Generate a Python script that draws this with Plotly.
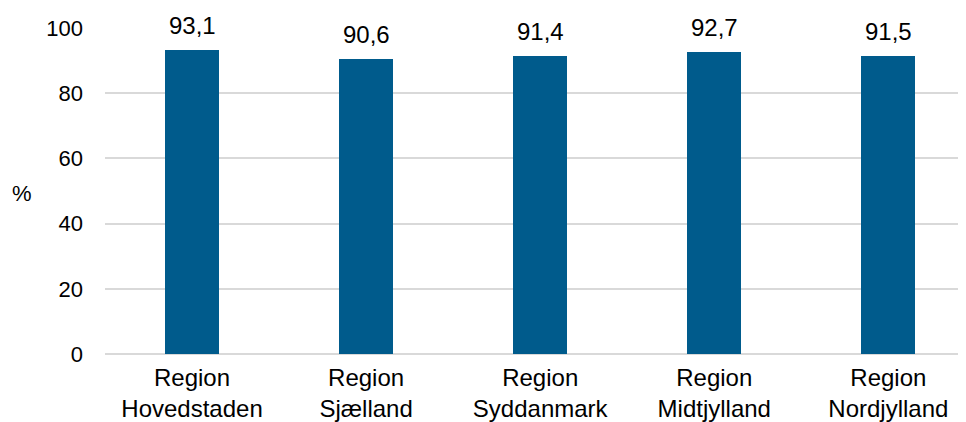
import plotly.graph_objects as go

categories = ["Region<br>Hovedstaden", "Region<br>Sjælland", "Region<br>Syddanmark",
              "Region<br>Midtjylland", "Region<br>Nordjylland"]
values = [93.1, 90.6, 91.4, 92.7, 91.5]
y_ticks = [0, 20, 40, 60, 80, 100]

BAR_COLOR = "#005B8C"
FONT = "Liberation Sans, Arial, sans-serif"
FS = 24
FS_Y = 22

W, H = 966, 422
L, R, T, B = 97, 8, 20, 76
PW, PH = W - L - R, H - T - B

fig = go.Figure()
fig.add_trace(go.Bar(
    x=categories, y=values, width=0.31,
    marker=dict(color=BAR_COLOR, line=dict(width=0)),
    hoverinfo="skip",
))

for c, v in zip(categories, values):
    fig.add_annotation(
        x=c, y=v, xref="x", yref="y",
        text=f"{v:.1f}".replace(".", ","),
        showarrow=False, yanchor="bottom", yshift=9,
        font=dict(family=FONT, size=FS, color="#000000"),
    )

# '%' axis label, horizontal, left of the tick labels
px_x, px_y = 22 - 8, 193 - 8
fig.add_annotation(
    x=(px_x - L) / PW, y=(H - B - px_y) / PH, xref="paper", yref="paper",
    text="%", showarrow=False, xanchor="center", yanchor="middle",
    font=dict(family=FONT, size=FS_Y, color="#000000"),
)

fig.update_layout(
    width=W, height=H,
    margin=dict(l=L, r=R, t=T, b=B, pad=0),
    paper_bgcolor="white", plot_bgcolor="white",
    showlegend=False,
    font=dict(family=FONT, size=FS, color="#000000"),
    bargap=0,
)
fig.update_xaxes(
    range=[-0.5, 4.446], showgrid=False, zeroline=False, showline=False,
    ticks="", tickfont=dict(family=FONT, size=FS, color="#000000"),
    ticklabelstandoff=7,
)
fig.update_yaxes(
    range=[0, 100], tickvals=y_ticks, showgrid=True, gridcolor="#D9D9D9",
    gridwidth=1.5, zeroline=True, zerolinecolor="#D9D9D9", zerolinewidth=1.5,
    showline=False, ticks="", tickfont=dict(family=FONT, size=FS_Y, color="#000000"),
    ticklabelstandoff=21,
)

fig.write_html("out.html")
